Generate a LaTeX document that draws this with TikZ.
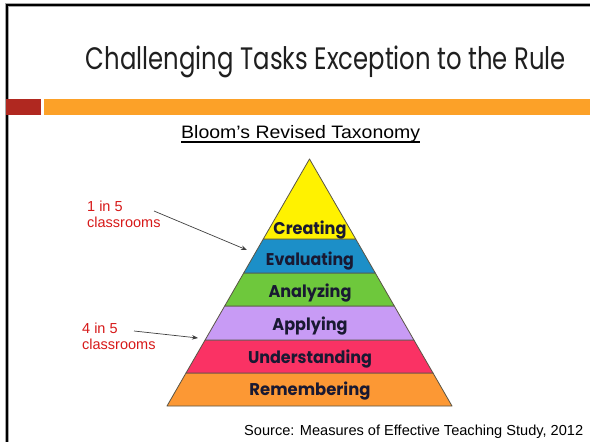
\documentclass[tikz,border=0pt]{standalone}
\usepackage{fontspec}
\usepackage{graphicx}
\setmainfont{Liberation Sans}
\newfontfamily\gothic{Poppins}
\usetikzlibrary{arrows.meta}
\newcommand\fitw[2]{\resizebox{#1}{\height}{#2}}
\definecolor{barred}{RGB}{176,40,32}
\definecolor{barorange}{RGB}{252,161,40}
\definecolor{redtxt}{RGB}{215,25,25}
\definecolor{navy}{RGB}{25,25,50}
\definecolor{cyellow}{RGB}{255,242,0}
\definecolor{cblue}{RGB}{28,143,200}
\definecolor{cgreen}{RGB}{110,200,60}
\definecolor{clav}{RGB}{200,155,245}
\definecolor{cpink}{RGB}{250,50,100}
\definecolor{corange}{RGB}{252,152,52}
\definecolor{edge}{RGB}{90,85,70}
\tikzset{
  band/.style={draw=edge, line width=0.8pt, line join=round},
  lvl/.style={inner sep=0pt, text=navy, font=\gothic\bfseries\fontsize{17}{20}\selectfont},
  note/.style={inner sep=0pt, text=redtxt, font=\fontsize{14.5}{16.5}\selectfont},
  pointer/.style={draw=black!75, line width=0.7pt, -{Stealth[length=6pt,width=4.5pt]}},
}
\begin{document}
\begin{tikzpicture}[x=1pt,y=-1pt]
\useasboundingbox[fill=white] (0,0) rectangle (590,442);
% frame
\draw[black!35, line width=3.5pt] (7,442) -- (7,5) -- (590,5);
\draw[black, line width=1.8pt] (7,442) -- (7,5) -- (590,5);
% title
\node[inner sep=0pt, anchor=base, text=black!88, font=\gothic\fontsize{31}{36}\selectfont] (title) at (326,69.6) {\fitw{480pt}{Challenging Tasks Exception to the Rule}};
% bars
\fill[barred] (6,99) rectangle (41,115);
\fill[barorange] (44,99) rectangle (590,115);
% heading
\node[inner sep=0pt, anchor=base west, font=\fontsize{18}{20}\selectfont] (bloom) at (181,138) {\fitw{239pt}{Bloom’s Revised Taxonomy}};
\draw[line width=1.3pt] ([yshift=-4pt]bloom.base west) -- ([yshift=-4pt]bloom.base east);
% pyramid
\draw[band, fill=corange] (186.0,373) -- (433.0,373) -- (452.0,406) -- (167.0,406) -- cycle;
\draw[band, fill=cpink] (205.1,340) -- (413.9,340) -- (433.0,373) -- (186.0,373) -- cycle;
\draw[band, fill=clav] (224.7,306) -- (394.3,306) -- (413.9,340) -- (205.1,340) -- cycle;
\draw[band, fill=cgreen] (243.7,273) -- (375.3,273) -- (394.3,306) -- (224.7,306) -- cycle;
\draw[band, fill=cblue] (263.3,239) -- (355.7,239) -- (375.3,273) -- (243.7,273) -- cycle;
\draw[band, fill=cyellow] (309.5,159) -- (355.7,239) -- (263.3,239) -- cycle;
\node[lvl, anchor=base] (creating) at (310,234.3) {\fitw{73pt}{Creating}};
\node[lvl, anchor=base] (evaluating) at (310,265) {\fitw{88pt}{Evaluating}};
\node[lvl, anchor=base] (analyzing) at (310,297.7) {\fitw{83pt}{Analyzing}};
\node[lvl, anchor=base] (applying) at (310,330.7) {\fitw{75pt}{Applying}};
\node[lvl, anchor=base] (understanding) at (310,363.3) {\fitw{124pt}{Understanding}};
\node[lvl, anchor=base] (remembering) at (310,395) {\fitw{121pt}{Remembering}};
% notes
\node[note, anchor=base west] (one) at (87,211) {\begin{tabular}[t]{@{}l@{}}1 in 5\\classrooms\end{tabular}};
\node[note, anchor=base west] (four) at (82,333) {\begin{tabular}[t]{@{}l@{}}4 in 5\\classrooms\end{tabular}};
\coordinate (a1s) at (154,211);
\coordinate (a1e) at (247,250);
\coordinate (a2s) at (134,331);
\coordinate (a2e) at (198,338);
\draw[pointer] (a1s) -- (a1e);
\draw[pointer] (a2s) -- (a2e);
% source
\node[inner sep=0pt, anchor=base west, font=\fontsize{14.5}{16}\selectfont] (source) at (244,435) {\fitw{339pt}{Source: Measures of Effective Teaching Study, 2012}};
\end{tikzpicture}
\end{document}
